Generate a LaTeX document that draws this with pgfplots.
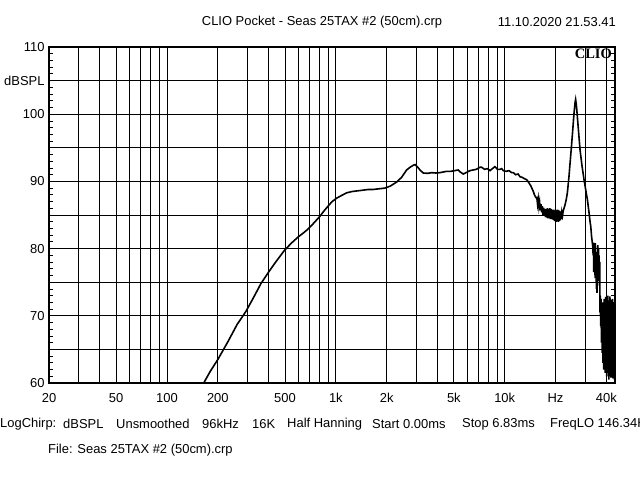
\documentclass[border=0pt]{standalone}
\usepackage{pgfplots}
\usepackage{pgfplotstable}
\pgfplotsset{compat=1.18}
\usepackage{fontspec}
\setmainfont{Liberation Sans}
\newfontfamily\clioserif{Liberation Serif}
\newcommand{\fs}{\fontsize{13}{15}\selectfont}

\pgfplotstableread{
f db
160 59.2
165 60.0
180 61.7
200 63.5
230 66.2
260 68.7
294 70.7
330 73.0
360 74.8
397 76.4
440 78.0
498 79.8
550 80.9
596 81.7
640 82.3
684 82.9
740 83.8
804 84.8
850 85.6
898 86.3
950 87.0
1010 87.5
1080 87.9
1158 88.3
1250 88.5
1350 88.6
1452 88.7
1560 88.8
1664 88.8
1800 88.9
1952 89.0
2100 89.3
2290 89.9
2450 90.6
2624 91.7
2750 92.1
2872 92.4
2950 92.5
3033 92.2
3150 91.7
3290 91.25
3500 91.2
3700 91.3
3900 91.25
4135 91.3
4330 91.4
4530 91.5
4800 91.5
5050 91.6
5308 91.7
5450 91.4
5680 91.1
5900 91.3
6226 91.6
6500 91.7
6800 91.8
7132 92.1
7304 92.1
7600 91.8
7900 91.9
8184 91.6
8450 91.9
8754 92.2
9050 91.8
9380 91.8
9600 91.9
9810 91.6
10200 91.5
10600 91.6
11000 91.3
11240 91.3
11600 91.0
12000 91.1
12320 90.7
12700 90.6
13100 90.4
13500 90.25
13900 89.8
14300 89.3
14770 88.5
15000 88.0
15300 87.6
15500 87.6
15650 86.6
15800 87.4
15950 86.2
16100 86.9
16250 85.7
16400 86.6
16550 85.4
16700 86.3
16850 85.0
17000 86.1
17150 84.9
17300 85.9
17450 84.7
17600 85.9
17750 84.6
17900 86.0
18050 84.5
18200 85.9
18350 84.5
18500 86.0
18650 84.4
18800 85.9
18950 84.4
19100 85.8
19250 84.3
19400 85.8
19550 84.2
19700 85.7
19850 84.1
20000 85.8
20150 84.0
20300 85.7
20450 84.1
20600 85.8
20750 84.0
20900 85.7
21050 84.1
21200 85.6
21350 84.2
21500 85.5
21650 84.4
21800 85.4
22000 84.9
22200 85.6
22450 86.0
22760 86.5
23100 87.2
23500 88.3
24000 90.6
24380 92.7
24850 95.2
25300 97.7
25700 100.0
26120 101.8
26300 102.2
26500 101.6
26720 100.7
27300 97.8
27940 94.7
28700 92.3
29500 90.25
30200 88.7
30880 87.3
31600 85.3
32030 84.0
32340 83.3
32700 81.8
33240 80.3
33400 79.0
33550 80.9
33700 76.5
33850 80.2
34000 77.0
34150 79.8
34300 75.6
34450 80.8
34600 76.8
34750 79.5
34900 74.0
35050 79.2
35200 73.4
35350 78.5
35500 75.2
35650 80.5
35800 76.0
35950 80.0
36100 77.2
36250 79.0
36400 74.5
36550 78.0
36700 70.5
36850 73.0
37000 68.5
37200 72.5
37400 66.0
37600 71.8
37800 64.5
38000 72.0
38200 63.0
38400 71.0
38600 62.0
38800 72.5
39000 63.5
39200 70.5
39400 61.5
39600 72.8
39800 62.5
40000 72.0
40200 61.0
40400 71.0
40600 62.0
40800 73.0
41000 61.5
41200 72.3
41400 60.5
41600 71.5
41800 62.5
42000 72.9
42200 61.0
42400 70.0
42600 60.8
42800 72.4
43000 61.5
43200 71.0
43400 62.0
43600 72.5
43800 60.7
44000 71.2
44200 61.5
44400 72.0
44600 60.5
44800 71.5
45000 62.0
}\resp

\begin{document}
\begin{tikzpicture}
\useasboundingbox (0,0) rectangle (640bp,480bp);
\clip (0,0) rectangle (640bp,480bp);
\fill[white] (0,0) rectangle (640bp,480bp);
\begin{axis}[
  at={(49bp,97bp)}, anchor=south west,
  scale only axis, width=566bp, height=336bp,
  xmode=log, xmin=20, xmax=45000, ymin=60, ymax=110,
  xtick={20,30,40,50,60,70,80,90,100,200,300,400,500,600,700,800,900,1000,2000,3000,4000,5000,6000,7000,8000,9000,10000,20000,30000,40000},
  xticklabels={20,,,50,,,,,100,200,,,500,,,,,1k,2k,,,5k,,,,,10k,Hz,,40k},
  ytick={60,65,70,75,80,85,90,95,100,105,110},
  yticklabels={60,,70,,80,,90,,100,dBSPL,110},
  xminorticks=false,
  minor y tick num=4,
  major tick length=0pt,
  minor tick length=4bp,
  minor tick style={black, line width=0.8bp},
  xmajorgrids, ymajorgrids,
  major grid style={black, line width=0.8bp},
  axis line style={black, line width=2bp},
  tick label style={font=\fs, text=black},
  xticklabel style={anchor=center, yshift=-15bp},
  yticklabel style={anchor=east, xshift=-1bp},
]
\addplot[black, line width=1.6bp] table[x=f,y=db]{\resp};
\end{axis}
\node[anchor=north east, font={\clioserif\bfseries\fontsize{14.5}{16}\selectfont}, inner sep=0pt] at (612bp,431bp) {CLIO};
\node[font=\fs] at (322bp,458bp) {CLIO Pocket - Seas 25TAX \#2 (50cm).crp};
\node[font=\fs, anchor=east, inner sep=0pt] at (616bp,458bp) {11.10.2020 21.53.41};
\node[font=\fs, anchor=west, inner sep=0pt] at (0bp,56bp) {LogChirp:};
\node[font=\fs, anchor=west, inner sep=0pt] at (63bp,56bp) {dBSPL};
\node[font=\fs, anchor=west, inner sep=0pt] at (116bp,56bp) {Unsmoothed};
\node[font=\fs, anchor=west, inner sep=0pt] at (202bp,56bp) {96kHz};
\node[font=\fs, anchor=west, inner sep=0pt] at (252bp,56bp) {16K};
\node[font=\fs, anchor=west, inner sep=0pt] at (287bp,56bp) {Half Hanning};
\node[font=\fs, anchor=west, inner sep=0pt] at (372bp,56bp) {Start 0.00ms};
\node[font=\fs, anchor=west, inner sep=0pt] at (462bp,56bp) {Stop 6.83ms};
\node[font=\fs, anchor=west, inner sep=0pt] at (550bp,56bp) {FreqLO 146.34Hz};
\node[font=\fs, anchor=west, inner sep=0pt] at (48bp,30bp) {File: Seas 25TAX \#2 (50cm).crp};
\end{tikzpicture}
\end{document}
